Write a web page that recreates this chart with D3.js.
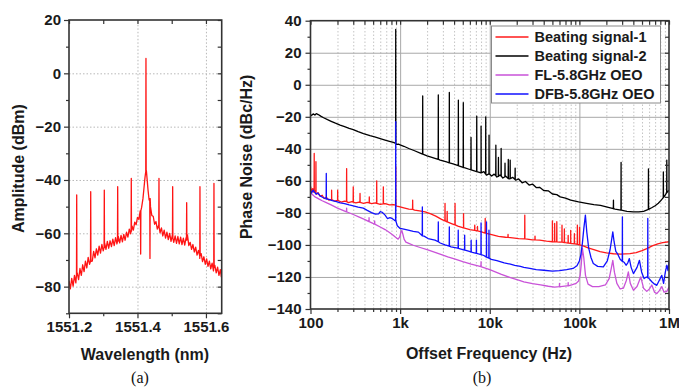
<!DOCTYPE html>
<html>
<head>
<meta charset="utf-8">
<script src="https://cdn.jsdelivr.net/npm/d3@7"></script>
<style>
  html, body { margin: 0; padding: 0; background: #fff; }
  svg text { font-family: "Liberation Sans", Arial, sans-serif; }
</style>
</head>
<body>
<div id="chart"></div>
<script>
// ---------- (a) optical spectrum ----------
const wlTicks = [1551.2, 1551.4, 1551.6];
const wlMinor = [1551.3, 1551.5];
const ampTicks = [20, 0, -20, -40, -60, -80];
const ampMinor = [10, -10, -30, -50, -70, -90];

// noise floor [wavelength nm, dBm]
const spectrumFloor = [
  [1551.200, -77.8], [1551.204, -80.8], [1551.208, -76.9], [1551.212, -79.8], [1551.216, -75.8],
  [1551.220, -78.6], [1551.224, -74.8], [1551.228, -77.4], [1551.232, -73.2], [1551.236, -75.8],
  [1551.240, -71.8], [1551.244, -74.4], [1551.248, -70.4], [1551.252, -73.0], [1551.256, -69.0],
  [1551.260, -71.6], [1551.264, -67.8], [1551.268, -70.4], [1551.272, -66.8], [1551.276, -69.2],
  [1551.280, -65.8], [1551.284, -68.2], [1551.288, -64.8], [1551.292, -67.4], [1551.296, -64.2],
  [1551.300, -66.6], [1551.304, -63.6], [1551.308, -66.0], [1551.312, -63.0], [1551.316, -65.6],
  [1551.320, -62.8], [1551.324, -65.0], [1551.328, -62.2], [1551.332, -64.6], [1551.336, -61.6],
  [1551.340, -64.0], [1551.344, -61.2], [1551.348, -63.6], [1551.352, -60.8], [1551.356, -63.2],
  [1551.360, -60.4], [1551.364, -62.6], [1551.368, -59.6], [1551.372, -61.4], [1551.376, -58.4],
  [1551.380, -60.2], [1551.384, -57.2], [1551.388, -58.8], [1551.392, -55.8], [1551.396, -56.8],
  [1551.400, -54.0], [1551.404, -54.8], [1551.408, -51.6], [1551.412, -50.4], [1551.416, -47.0],
  [1551.419, -43.0], [1551.422, -39.0], [1551.424, -37.0], [1551.426, -36.5], [1551.428, -39.5],
  [1551.431, -44.0], [1551.434, -47.5], [1551.438, -50.0], [1551.442, -53.4], [1551.446, -53.6],
  [1551.450, -56.6], [1551.454, -55.6], [1551.458, -58.4], [1551.462, -57.0], [1551.466, -59.8],
  [1551.470, -58.0], [1551.474, -61.0], [1551.478, -58.8], [1551.482, -61.8], [1551.486, -59.6],
  [1551.490, -62.4], [1551.494, -60.0], [1551.498, -63.0], [1551.502, -60.6], [1551.506, -63.4],
  [1551.510, -61.0], [1551.514, -63.8], [1551.518, -61.2], [1551.522, -64.0], [1551.526, -61.4],
  [1551.530, -64.2], [1551.534, -61.8], [1551.538, -64.4], [1551.542, -61.6], [1551.546, -60.6],
  [1551.550, -64.6], [1551.554, -63.4], [1551.558, -66.0], [1551.562, -64.2], [1551.566, -67.0],
  [1551.570, -65.2], [1551.574, -68.2], [1551.578, -66.4], [1551.582, -69.4], [1551.586, -67.6],
  [1551.590, -70.6], [1551.594, -68.8], [1551.598, -71.6], [1551.602, -69.6], [1551.606, -72.4],
  [1551.610, -70.4], [1551.614, -73.3], [1551.618, -71.2], [1551.622, -74.1], [1551.626, -72.0],
  [1551.630, -74.8], [1551.634, -72.7], [1551.638, -75.8], [1551.642, -73.6], [1551.645, -76.4]
];
// spikes [wavelength, base, tip]  (tip below base = dip)
const spectrumSpikes = [
  [1551.2225, -75.5, -45.6], [1551.2634, -70.5, -44.4], [1551.3031, -65.3, -43.8],
  [1551.3422, -63.0, -42.5], [1551.3819, -59.2, -39.4], [1551.4093, -51.5, -67.8],
  [1551.4248, -37.0, 5.6], [1551.4365, -47.0, -69.4], [1551.4628, -57.8, -39.4],
  [1551.5028, -61.8, -42.5], [1551.5437, -62.5, -48.5], [1551.5825, -68.5, -42.5],
  [1551.6234, -72.8, -41.3]
];

// ---------- (b) phase noise ----------
const freqTicks = [1e2, 1e3, 1e4, 1e5, 1e6];
const pnTicks = [40, 20, 0, -20, -40, -60, -80, -100, -120, -140];
const pnMinor = [30, 10, -10, -30, -50, -70, -90, -110, -130];

const seriesNames = ['Beating signal-1', 'Beating signal-2', 'FL-5.8GHz OEO', 'DFB-5.8GHz OEO'];
const seriesColors = ['#ff1a1a', '#000000', '#c952d8', '#1010ff'];

// [Hz, dBc/Hz]
const beat1Floor = [
  [100, -63.5], [103, -66.5], [106, -64.8], [109, -67.2], [113, -66.0], [117, -68.4], [122, -67.4],
  [128, -69.6], [135, -69.0], [142, -71.0], [150, -70.2], [160, -72.0], [172, -71.4], [185, -72.6],
  [200, -72.2], [220, -73.2], [240, -72.6], [265, -73.6], [290, -73.0], [320, -73.8], [350, -73.2],
  [390, -74.0], [430, -73.4], [480, -74.2], [530, -73.8], [600, -74.6], [680, -74.2], [760, -75.0],
  [840, -74.8], [920, -75.8], [1000, -76.2], [1100, -76.8], [1250, -77.6], [1450, -78.2], [1650, -78.8],
  [1900, -79.4], [2200, -80.6], [2500, -82.0], [2900, -84.0], [3300, -85.4], [3800, -86.8], [4400, -88.2],
  [5100, -89.4], [6000, -90.4], [7000, -91.0], [8100, -91.8], [9200, -92.8], [10500, -93.6], [12500, -94.6],
  [15000, -95.2], [18000, -95.6], [21000, -96.0], [25000, -96.2], [30000, -96.8], [36000, -97.0],
  [43000, -97.6], [50000, -98.0], [60000, -98.2], [70000, -98.6], [80000, -99.0], [90000, -99.4],
  [100000, -100.0], [112000, -100.8], [125000, -101.8], [145000, -102.9], [170000, -104.2], [200000, -105.0],
  [240000, -105.5], [290000, -105.7], [367000, -105.4], [430000, -104.8], [500000, -103.6], [565000, -102.3],
  [650000, -100.6], [750000, -99.3], [850000, -98.6], [1000000, -98.0]
];
const beat1Spikes = [
  [110, -66.5, -42.9], [115, -67.6, -48.0], [172, -71.6, -65.8], [201, -72.2, -65.8], [253, -73.0, -52.3],
  [300, -73.3, -63.7], [357, -73.4, -67.9], [453, -73.8, -70.0], [548, -74.0, -60.0], [650, -74.3, -63.7],
  [893, -75.2, -51.0], [1380, -77.8, -72.0], [3170, -85.0, -74.0], [3350, -85.6, -79.0], [4100, -87.5, -74.0],
  [5100, -89.4, -80.4], [6800, -90.9, -87.7], [7300, -91.2, -88.5], [8900, -92.6, -83.5], [16000, -95.3, -93.5],
  [24600, -96.2, -81.4], [32000, -96.9, -94.5], [50000, -98.0, -85.0], [53000, -98.1, -86.6],
  [56000, -98.1, -85.5], [64000, -98.3, -87.7], [68000, -98.5, -90.0], [75000, -98.8, -94.0],
  [80000, -99.0, -91.0], [88000, -99.3, -93.0], [95000, -99.7, -87.7], [100500, -100.0, -89.0]
];

const beat2Floor = [
  [100, -19.5], [104, -18.8], [108, -18.2], [112, -18.9], [116, -18.0], [122, -18.6], [130, -19.6],
  [140, -20.6], [155, -21.8], [170, -22.8], [190, -24.0], [214, -25.2], [240, -26.2], [270, -27.2],
  [300, -28.0], [340, -29.3], [390, -30.5], [461, -31.8], [520, -32.6], [600, -33.6], [680, -34.5],
  [760, -35.3], [840, -36.0], [880, -36.4], [910, -37.2], [960, -37.0], [1000, -37.6], [1100, -38.4],
  [1250, -39.8], [1450, -41.2], [1700, -42.8], [2000, -44.4], [2400, -45.8], [2800, -47.0], [3300, -48.2],
  [3900, -49.4], [4500, -50.6], [5200, -51.8], [6000, -52.9], [7000, -54.0], [8000, -55.0], [8600, -54.2],
  [9200, -56.4], [9800, -55.2], [10500, -57.0], [11200, -55.8], [12000, -57.6], [13000, -56.4],
  [14000, -58.2], [15000, -57.0], [16500, -58.8], [18000, -57.8], [19500, -59.6], [21000, -58.8],
  [23000, -61.2], [25000, -60.4], [27500, -62.6], [30000, -62.0], [33000, -64.2], [36000, -64.0],
  [40000, -66.0], [45000, -66.2], [50000, -68.2], [56000, -68.6], [61000, -70.0], [70000, -70.8],
  [80000, -72.0], [98000, -73.1], [120000, -74.0], [145000, -74.8], [172000, -75.3], [210000, -76.6],
  [250000, -77.6], [290000, -78.3], [340000, -79.0], [400000, -79.4], [460000, -79.4], [520000, -79.0],
  [580000, -78.0], [640000, -76.8], [700000, -75.5], [760000, -74.0], [820000, -72.0], [880000, -70.0],
  [940000, -67.5], [1000000, -65.8]
];
const beat2Spikes = [
  [893, -36.6, 34.6], [1786, -43.3, -7.0], [2667, -46.6, -6.4], [3540, -48.7, -4.8], [4465, -50.5, -9.6],
  [5070, -51.6, -11.2], [6180, -53.1, -32.9], [7160, -54.2, -19.6], [8000, -55.0, -25.8], [9020, -55.8, -20.0],
  [9820, -55.6, -31.4], [11700, -56.8, -37.7], [12500, -57.2, -45.4], [13400, -57.0, -39.8],
  [14800, -57.4, -49.0], [16100, -58.5, -46.6], [16900, -58.6, -47.0], [19200, -59.2, -52.0],
  [240000, -77.4, -72.0], [292000, -78.3, -48.5], [590000, -77.8, -52.5], [865000, -70.5, -54.4],
  [945000, -67.3, -47.0]
];

const flFloor = [
  [100, -67.0], [104, -68.4], [108, -69.2], [112, -70.0], [118, -70.6], [125, -71.4], [135, -72.4],
  [150, -73.6], [170, -75.0], [200, -77.0], [230, -78.4], [260, -79.6], [300, -81.0], [350, -82.6],
  [400, -84.0], [450, -85.4], [520, -87.0], [600, -88.8], [680, -90.4], [760, -92.2], [830, -93.8],
  [890, -95.2], [950, -96.4], [990, -95.0], [1020, -92.0], [1045, -91.0], [1075, -93.5], [1110, -96.5],
  [1160, -98.2], [1250, -99.0], [1400, -100.2], [1670, -101.6], [2000, -103.0], [2500, -104.8],
  [3000, -106.4], [3400, -107.5], [4200, -109.0], [5000, -110.4], [6200, -112.0], [8100, -113.7],
  [10000, -115.4], [13500, -118.4], [17000, -120.4], [21000, -122.0], [24000, -123.0], [30000, -124.2],
  [37000, -125.0], [45000, -125.8], [53000, -126.3], [62000, -126.0], [72000, -125.6], [82000, -125.0],
  [92000, -124.0], [98000, -122.5], [102000, -119.0], [105000, -112.0], [108000, -102.0], [112000, -108.0],
  [117000, -119.0], [125000, -124.5], [140000, -126.0], [165000, -126.0], [195000, -125.0], [215000, -121.0],
  [228000, -114.0], [236000, -109.6], [246000, -117.0], [262000, -124.0], [285000, -127.5], [310000, -127.0],
  [335000, -122.0], [352000, -116.9], [370000, -124.0], [401000, -128.3], [440000, -126.0], [484000, -120.0],
  [520000, -127.0], [565000, -129.0], [605000, -127.5], [643000, -125.0], [690000, -129.5], [731000, -130.4],
  [780000, -128.5], [831000, -126.0], [880000, -129.5], [945000, -129.0], [1000000, -126.3]
];
const flSpikes = [
  [253, -79.4, -77.0], [450, -85.4, -83.0], [520, -87.0, -85.0], [8000, -113.6, -110.5],
  [60000, -126.0, -124.0], [75000, -125.5, -123.5]
];

const dfbFloor = [
  [100, -66.0], [103, -67.6], [107, -65.8], [111, -67.0], [115, -68.2], [120, -67.6], [128, -69.4],
  [136, -70.2], [145, -71.0], [160, -71.6], [175, -72.4], [195, -73.0], [215, -73.8], [240, -74.2],
  [270, -75.0], [300, -75.6], [340, -76.4], [388, -77.0], [430, -78.4], [480, -79.8], [530, -80.8],
  [575, -80.6], [600, -79.2], [630, -79.6], [680, -81.4], [720, -83.5], [770, -83.0], [820, -83.6],
  [860, -84.5], [930, -88.0], [1000, -89.7], [1100, -90.2], [1230, -90.8], [1400, -91.6], [1600, -92.0],
  [1850, -94.5], [2050, -96.0], [2450, -97.0], [2800, -98.8], [3170, -100.0], [3700, -101.2], [4400, -102.0],
  [5300, -103.3], [6400, -104.6], [7500, -105.6], [8600, -106.6], [10400, -109.0], [12000, -109.8],
  [14500, -111.2], [17000, -112.0], [19000, -112.7], [22000, -113.4], [24000, -114.0], [28000, -114.6],
  [33000, -115.4], [40000, -115.8], [50000, -116.3], [60000, -116.0], [72000, -115.4], [85000, -114.7],
  [94000, -113.0], [100000, -110.0], [104000, -106.0], [108000, -99.0], [112000, -90.0], [116700, -81.4],
  [121000, -92.0], [127000, -102.0], [135000, -108.0], [143000, -111.6], [160000, -113.4], [185000, -113.7],
  [205000, -110.0], [220000, -103.0], [230000, -96.0], [236000, -91.9], [244000, -98.0], [255000, -104.0],
  [266000, -105.4], [285000, -109.0], [298000, -110.0], [318000, -111.0], [332000, -112.7], [348000, -111.0],
  [361000, -108.5], [378000, -114.0], [401000, -117.9], [440000, -114.0], [468000, -109.6], [495000, -117.0],
  [527000, -121.0], [560000, -120.0], [600000, -121.0], [643000, -123.0], [690000, -124.5], [731000, -125.2],
  [780000, -122.0], [831000, -119.0], [870000, -124.0], [910000, -117.0], [945000, -112.7], [975000, -116.0],
  [1000000, -109.6]
];
const dfbSpikes = [
  [150, -71.3, -55.4], [893, -85.0, -23.0], [1770, -94.3, -76.3], [2667, -98.0, -85.6], [3540, -100.8, -88.7],
  [4450, -102.1, -90.8], [5250, -103.2, -93.9], [6200, -104.4, -97.0], [7100, -105.2, -97.0],
  [8000, -106.0, -86.3], [9200, -107.6, -85.6], [9800, -108.2, -90.8], [302000, -110.2, -82.5],
  [580000, -120.5, -83.5]
];

// ---------- layout ----------
const width = 679, height = 388;
const pa = { left: 69, right: 221.7, top: 20, bottom: 313.3 };
const pb = { left: 310.5, right: 669, top: 20.7, bottom: 309 };

const svg = d3.select('#chart').append('svg')
  .attr('width', width).attr('height', height)
  .style('background', '#fff');

// put spikes into the floor trace
function withSpikes(floor, spikes, lo, hi) {
  const pts = floor.map(d => [d[0], d[1]]);
  spikes.forEach(s => pts.push([lo(s[0]), s[1]], [s[0], s[2]], [hi(s[0]), s[1]]));
  return pts.sort((a, b) => a[0] - b[0]);
}

function styleAxis(g, size) {
  g.select('.domain').remove();
  g.selectAll('.tick line').attr('stroke', '#333').attr('stroke-width', 1.2);
  g.selectAll('.tick text')
    .attr('fill', '#1a1a1a')
    .style('font-size', size + 'px')
    .style('font-weight', 'bold');
}

// ===== panel (a) =====
const xA = d3.scaleLinear().domain([1551.2, 1551.646]).range([pa.left, pa.right]);
const yA = d3.scaleLinear().domain([-90, 20]).range([pa.bottom, pa.top]);
const wA = pa.right - pa.left, hA = pa.bottom - pa.top;

const gA = svg.append('g');

// dotted grid
gA.append('g')
  .attr('transform', `translate(${pa.left},0)`)
  .call(d3.axisLeft(yA).tickValues(ampTicks.filter(v => v < 20)).tickSize(-wA).tickFormat(''))
  .call(g => g.select('.domain').remove())
  .selectAll('line').attr('stroke', '#b8b8b8').attr('stroke-dasharray', '1.5 2');
gA.append('g')
  .attr('transform', `translate(0,${pa.bottom})`)
  .call(d3.axisBottom(xA).tickValues(wlTicks.slice(1)).tickSize(-hA).tickFormat(''))
  .call(g => g.select('.domain').remove())
  .selectAll('line').attr('stroke', '#b8b8b8').attr('stroke-dasharray', '1.5 2');

gA.append('clipPath').attr('id', 'clipA')
  .append('rect').attr('x', pa.left).attr('y', pa.top).attr('width', wA).attr('height', hA);

const spectrum = withSpikes(spectrumFloor, spectrumSpikes, v => v - 0.0006, v => v + 0.0006);
gA.append('path')
  .datum(spectrum)
  .attr('clip-path', 'url(#clipA)')
  .attr('fill', 'none')
  .attr('stroke', '#ff1414')
  .attr('stroke-width', 1.3)
  .attr('stroke-linejoin', 'round')
  .attr('d', d3.line().x(d => xA(d[0])).y(d => yA(d[1])));

// axes (a)
gA.append('g').attr('transform', `translate(${pa.left},0)`)
  .call(d3.axisLeft(yA).tickValues(ampTicks).tickSize(5).tickPadding(3))
  .call(g => styleAxis(g, 15));
gA.append('g').attr('transform', `translate(${pa.left},0)`)
  .call(d3.axisLeft(yA).tickValues(ampMinor).tickSize(3).tickFormat(''))
  .call(g => styleAxis(g, 15));
gA.append('g').attr('transform', `translate(${pa.right},0)`)
  .call(d3.axisLeft(yA).tickValues(ampTicks.concat(ampMinor)).tickSize(4).tickFormat(''))
  .call(g => styleAxis(g, 15));
gA.append('g').attr('transform', `translate(0,${pa.bottom})`)
  .call(d3.axisBottom(xA).tickValues(wlTicks).tickSize(5).tickPadding(3).tickFormat(d3.format('.1f')))
  .call(g => styleAxis(g, 15));
gA.append('g').attr('transform', `translate(0,${pa.bottom})`)
  .call(d3.axisBottom(xA).tickValues(wlMinor).tickSize(3).tickFormat(''))
  .call(g => styleAxis(g, 15));
gA.append('g').attr('transform', `translate(0,${pa.top})`)
  .call(d3.axisBottom(xA).tickValues(wlTicks.concat(wlMinor)).tickSize(4).tickFormat(''))
  .call(g => styleAxis(g, 15));
gA.append('rect')
  .attr('x', pa.left).attr('y', pa.top).attr('width', wA).attr('height', hA)
  .attr('fill', 'none').attr('stroke', '#333').attr('stroke-width', 1.6);

gA.append('text')
  .attr('transform', `translate(18,${(pa.top + pa.bottom) / 2 + 2}) rotate(-90)`)
  .attr('text-anchor', 'middle').attr('dy', '0.35em')
  .style('font-size', '16px').style('font-weight', 'bold').attr('fill', '#1a1a1a')
  .text('Amplitude (dBm)');
gA.append('text')
  .attr('x', 145).attr('y', 359.5)
  .attr('text-anchor', 'middle')
  .style('font-size', '16px').style('font-weight', 'bold').attr('fill', '#1a1a1a')
  .text('Wavelength (nm)');
gA.append('text')
  .attr('x', 140).attr('y', 383)
  .attr('text-anchor', 'middle')
  .style('font-family', '"Liberation Serif", "Times New Roman", serif')
  .style('font-size', '16px').attr('fill', '#111')
  .text('(a)');

// ===== panel (b) =====
const xB = d3.scaleLog().domain([1e2, 1e6]).range([pb.left, pb.right]);
const yB = d3.scaleLinear().domain([-140, 40]).range([pb.bottom, pb.top]);
const wB = pb.right - pb.left, hB = pb.bottom - pb.top;

const freqMinor = [];
[1e2, 1e3, 1e4, 1e5].forEach(dec => { for (let k = 2; k <= 9; k++) freqMinor.push(dec * k); });

const fmtFreq = d => d >= 1e6 ? (d / 1e6) + 'M' : d >= 1e3 ? (d / 1e3) + 'k' : String(d);

const gB = svg.append('g');

// grid: minor dotted, major solid
gB.append('g').attr('transform', `translate(0,${pb.bottom})`)
  .call(d3.axisBottom(xB).tickValues(freqMinor).tickSize(-hB).tickFormat(''))
  .call(g => g.select('.domain').remove())
  .selectAll('line').attr('stroke', '#c4c4c4').attr('stroke-dasharray', '1.5 2');
gB.append('g').attr('transform', `translate(0,${pb.bottom})`)
  .call(d3.axisBottom(xB).tickValues([1e3, 1e4, 1e5]).tickSize(-hB).tickFormat(''))
  .call(g => g.select('.domain').remove())
  .selectAll('line').attr('stroke', '#a8a8a8').attr('stroke-width', 1);
gB.append('g').attr('transform', `translate(${pb.left},0)`)
  .call(d3.axisLeft(yB).tickValues(pnTicks.filter(v => v < 40 && v > -140)).tickSize(-wB).tickFormat(''))
  .call(g => g.select('.domain').remove())
  .selectAll('line').attr('stroke', '#a8a8a8').attr('stroke-width', 1);

gB.append('clipPath').attr('id', 'clipB')
  .append('rect').attr('x', pb.left).attr('y', pb.top).attr('width', wB).attr('height', hB);

const lineB = d3.line().x(d => xB(d[0])).y(d => yB(d[1]));
const lo = f => f * 0.997, hi = f => f * 1.003;
const traces = [
  { pts: withSpikes(beat2Floor, beat2Spikes, lo, hi), color: seriesColors[1] },
  { pts: withSpikes(beat1Floor, beat1Spikes, lo, hi), color: seriesColors[0] },
  { pts: withSpikes(flFloor, flSpikes, lo, hi), color: seriesColors[2] },
  { pts: withSpikes(dfbFloor, dfbSpikes, lo, hi), color: seriesColors[3] }
];
gB.append('g').attr('clip-path', 'url(#clipB)')
  .selectAll('path')
  .data(traces)
  .enter()
  .append('path')
  .attr('fill', 'none')
  .attr('stroke', d => d.color)
  .attr('stroke-width', 1.3)
  .attr('stroke-linejoin', 'round')
  .attr('d', d => lineB(d.pts));

// axes (b)
gB.append('g').attr('transform', `translate(${pb.left},0)`)
  .call(d3.axisLeft(yB).tickValues(pnTicks).tickSize(5).tickPadding(4))
  .call(g => styleAxis(g, 15));
gB.append('g').attr('transform', `translate(${pb.left},0)`)
  .call(d3.axisLeft(yB).tickValues(pnMinor).tickSize(3).tickFormat(''))
  .call(g => styleAxis(g, 15));
gB.append('g').attr('transform', `translate(${pb.right},0)`)
  .call(d3.axisLeft(yB).tickValues(pnTicks.concat(pnMinor)).tickSize(4).tickFormat(''))
  .call(g => styleAxis(g, 15));
gB.append('g').attr('transform', `translate(0,${pb.bottom})`)
  .call(d3.axisBottom(xB).tickValues(freqTicks).tickSize(5).tickPadding(3).tickFormat(fmtFreq))
  .call(g => styleAxis(g, 15));
gB.append('g').attr('transform', `translate(0,${pb.bottom})`)
  .call(d3.axisBottom(xB).tickValues(freqMinor).tickSize(3).tickFormat(''))
  .call(g => styleAxis(g, 15));
gB.append('g').attr('transform', `translate(0,${pb.top})`)
  .call(d3.axisBottom(xB).tickValues(freqTicks.concat(freqMinor)).tickSize(4).tickFormat(''))
  .call(g => styleAxis(g, 15));
gB.append('rect')
  .attr('x', pb.left).attr('y', pb.top).attr('width', wB).attr('height', hB)
  .attr('fill', 'none').attr('stroke', '#333').attr('stroke-width', 1.6);

// legend
const legend = gB.append('g').attr('transform', 'translate(491.5,26)');
legend.append('rect')
  .attr('width', 169).attr('height', 77)
  .attr('fill', '#fff').attr('stroke', '#8a8a8a').attr('stroke-width', 1);
const legendRows = legend.selectAll('.row')
  .data(seriesNames)
  .enter()
  .append('g')
  .attr('class', 'row')
  .attr('transform', (d, i) => `translate(0,${11 + i * 19})`);
legendRows.append('line')
  .attr('x1', 4).attr('x2', 37)
  .attr('stroke', (d, i) => seriesColors[i])
  .attr('stroke-width', 1.5);
legendRows.append('text')
  .attr('x', 43).attr('dy', '0.36em')
  .style('font-size', '14.5px').style('font-weight', 'bold').attr('fill', '#1a1a1a')
  .text(d => d);

gB.append('text')
  .attr('transform', `translate(246,${(pb.top + pb.bottom) / 2 - 8}) rotate(-90)`)
  .attr('text-anchor', 'middle').attr('dy', '0.35em')
  .style('font-size', '16px').style('font-weight', 'bold').attr('fill', '#1a1a1a')
  .text('Phase Noise (dBc/Hz)');
gB.append('text')
  .attr('x', 489).attr('y', 359)
  .attr('text-anchor', 'middle')
  .style('font-size', '16px').style('font-weight', 'bold').attr('fill', '#1a1a1a')
  .text('Offset Frequency (Hz)');
gB.append('text')
  .attr('x', 482).attr('y', 383)
  .attr('text-anchor', 'middle')
  .style('font-family', '"Liberation Serif", "Times New Roman", serif')
  .style('font-size', '16px').attr('fill', '#111')
  .text('(b)');
</script>
</body>
</html>
